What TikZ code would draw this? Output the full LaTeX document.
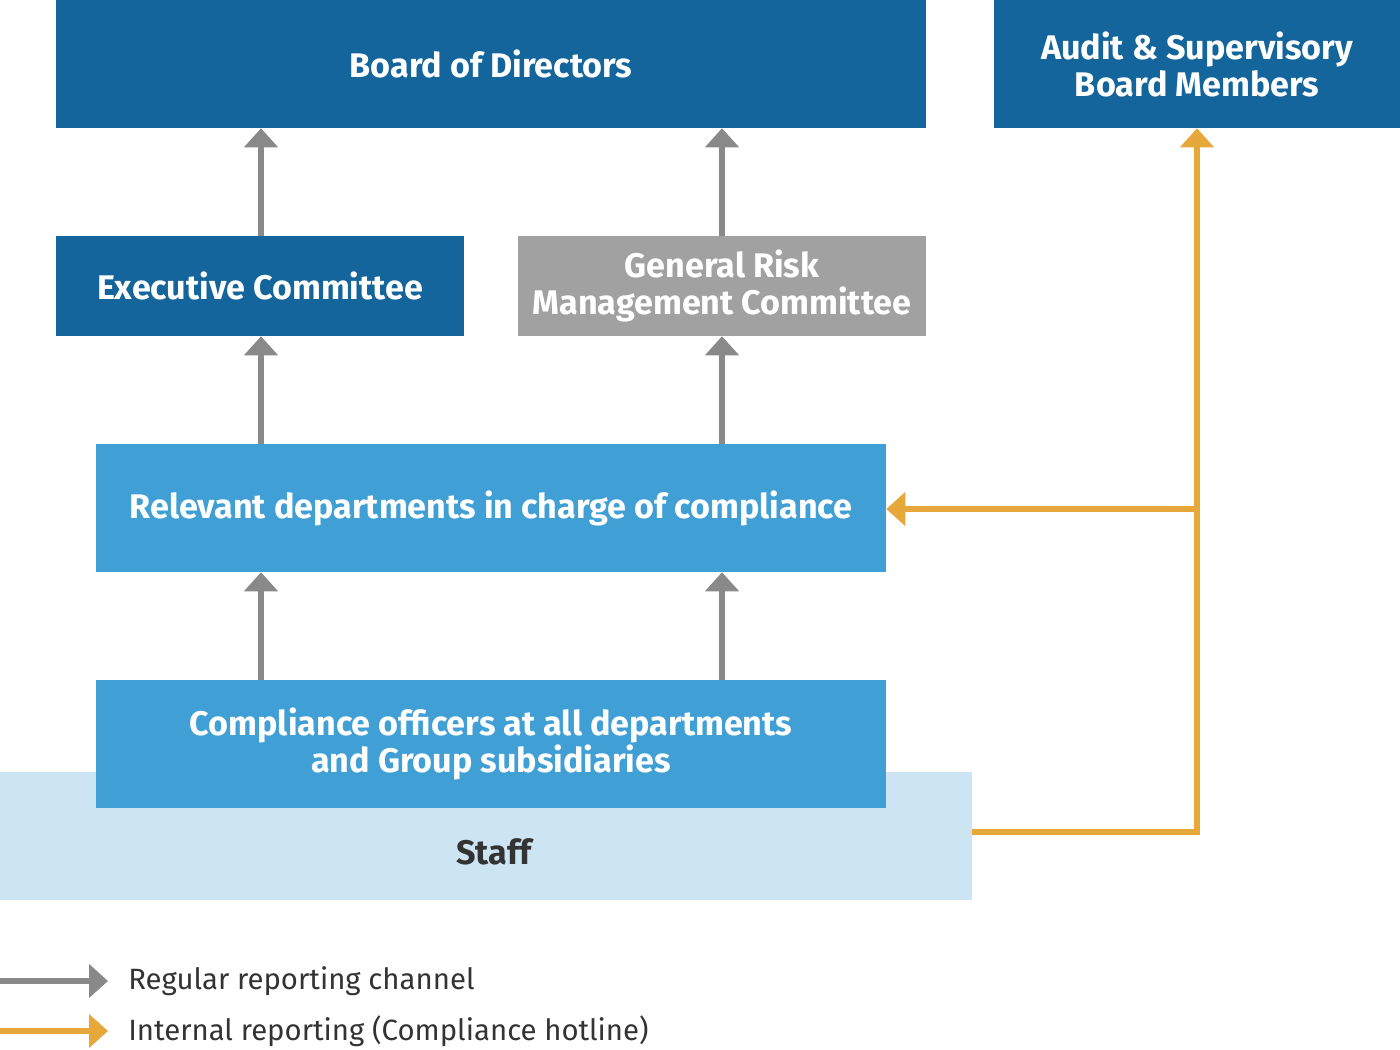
\documentclass[tikz,border=0pt]{standalone}
\usepackage{fontspec}
\setmainfont{Fira Sans}
\usetikzlibrary{arrows.meta}
\definecolor{dblue}{RGB}{19,101,155}
\definecolor{mblue}{RGB}{64,159,213}
\definecolor{lblue}{RGB}{205,228,243}
\definecolor{gbox}{RGB}{160,161,160}
\definecolor{garrow}{RGB}{137,137,137}
\definecolor{orng}{RGB}{230,168,58}
\definecolor{dtext}{RGB}{51,51,51}
\tikzset{
  bfont/.style={font=\fontsize{25.6}{27.75}\selectfont\bfseries},
  box/.style={rectangle, inner sep=0pt, text=white, align=center, bfont},
  darkbox/.style={box, fill=dblue},
  midbox/.style={box, fill=mblue},
  graybox/.style={box, fill=gbox},
  reg/.style={draw=garrow, line width=4.5pt, -{Triangle[width=24.75pt,length=14.25pt]}},
  hot/.style={draw=orng, line width=4.5pt, -{Triangle[width=24.75pt,length=14.25pt]}},
  legtext/.style={anchor=west, text=dtext, inner sep=0pt, font=\fontsize{22}{26}\selectfont}
}
\begin{document}
\begin{tikzpicture}[x=0.75pt, y=-0.75pt]
\useasboundingbox (0,0) rectangle (1400,1050);
% boxes
\node[darkbox, minimum width=870*0.75pt, minimum height=128*0.75pt] (board) at (491,64) {Board of Directors};
\node[darkbox, minimum width=406*0.75pt, minimum height=128*0.75pt] (audit) at (1197,64) {Audit \& Supervisory\\Board Members};
\node[darkbox, minimum width=408*0.75pt, minimum height=100*0.75pt] (exec) at (260,286) {Executive Committee};
\node[graybox, minimum width=408*0.75pt, minimum height=100*0.75pt] (grmc) at (722,286) {General Risk\\Management Committee};
\node[midbox, minimum width=790*0.75pt, minimum height=128*0.75pt] (rel) at (491,508) {Relevant departments in charge of compliance};
\node[rectangle, fill=lblue, inner sep=0pt, minimum width=972*0.75pt, minimum height=128*0.75pt] (staff) at (486,836) {};
\node[text=dtext, inner sep=0pt, bfont] (stafftxt) at (494,852) {Staff};
\node[midbox, minimum width=790*0.75pt, minimum height=128*0.75pt] (comp) at (491,744) {Compliance officers at all departments\\and Group subsidiaries};
% regular arrows
\coordinate (xa) at (261,0);
\coordinate (xb) at (722,0);
\draw[reg] (exec.north -| xa) -- (board.south -| xa);
\draw[reg] (grmc.north -| xb) -- (board.south -| xb);
\draw[reg] (rel.north -| xa) -- (exec.south -| xa);
\draw[reg] (rel.north -| xb) -- (grmc.south -| xb);
\draw[reg] (comp.north -| xa) -- (rel.south -| xa);
\draw[reg] (comp.north -| xb) -- (rel.south -| xb);
% hotline
\coordinate (hs) at (972,832);
\coordinate (hj) at (1197,509);
\draw[hot] (hs) -| (audit.south);
\draw[hot] (hj) -- (rel.east |- hj);
% legend
\coordinate (l1a) at (0,981);
\coordinate (l1b) at (108,981);
\coordinate (l2a) at (0,1031);
\coordinate (l2b) at (108,1031);
\draw[reg] (l1a) -- (l1b);
\draw[hot] (l2a) -- (l2b);
\node[legtext] (lt1) at (128,981) {Regular reporting channel};
\node[legtext] (lt2) at (128,1031) {Internal reporting (Compliance hotline)};
\end{tikzpicture}
\end{document}
